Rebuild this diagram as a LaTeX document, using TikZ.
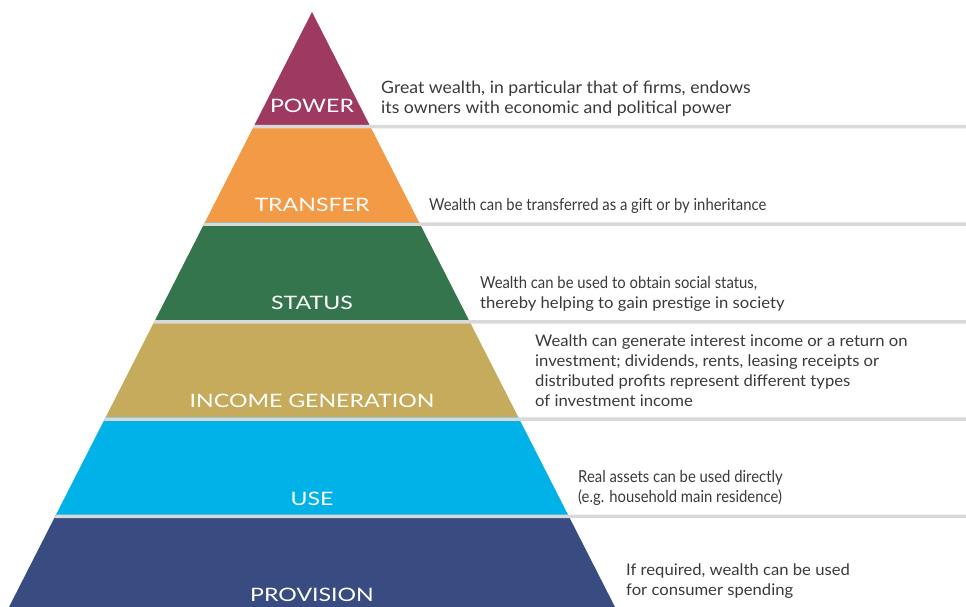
\documentclass[tikz,border=0pt]{standalone}
\usepackage{fontspec}
\setmainfont{Lato}
\newfontfamily\widefont[FakeStretch=1.04]{Lato}
\newfontfamily\narrowfont[FakeStretch=0.9]{Lato}
\newfontfamily\labelfont[FakeStretch=1.25]{Lato}
\usepackage{xcolor}
\usetikzlibrary{positioning}

\definecolor{powercol}{RGB}{158,58,98}
\definecolor{transfercol}{RGB}{243,154,71}
\definecolor{statuscol}{RGB}{52,117,77}
\definecolor{incomecol}{RGB}{197,171,91}
\definecolor{usecol}{RGB}{0,178,232}
\definecolor{provisioncol}{RGB}{57,76,130}
\definecolor{sepgray}{RGB}{217,217,217}
\definecolor{notegray}{RGB}{58,58,58}

\begin{document}
\begin{tikzpicture}[
    x=1pt, y=-1pt,
    layerlabel/.style={font=\labelfont\fontsize{18.5}{20}\selectfont, text=white, inner sep=0pt, anchor=base},
    note/.style={font=\widefont\fontsize{16}{20}\selectfont, text=notegray, align=left, anchor=west, inner sep=0pt},
    bignote/.style={note, font=\widefont\fontsize{17}{20}\selectfont},
    narrownote/.style={note, font=\narrowfont\fontsize{16.5}{20}\selectfont}
]
\useasboundingbox (0,0) rectangle (966,607);

% Schichten der Pyramide
\begin{scope}
    \clip (312,12) -- (615,607) -- (9,607) -- cycle;
    \fill[powercol] (0,0) rectangle (966,125);
    \fill[transfercol] (0,125) rectangle (966,222.3);
    \fill[statuscol] (0,222.3) rectangle (966,320);
    \fill[incomecol] (0,320) rectangle (966,417.3);
    \fill[usecol] (0,417.3) rectangle (966,514.5);
    \fill[provisioncol] (0,514.5) rectangle (966,607);
\end{scope}

% Trennlinien
\foreach \y in {125,222.3,320,417.3,514.5}
    \fill[sepgray] ({312-0.509*(\y-12)},\y) -- (966,\y) -- (966,\y+3.5)
        -- ({312-0.509*(\y+3.5-12)},\y+3.5) -- cycle;

% Beschriftungen
\node[layerlabel] (power) at (312,113) {POWER};
\node[layerlabel] (transfer) at (312,211) {TRANSFER};
\node[layerlabel] (status) at (312,309) {STATUS};
\node[layerlabel] (income) at (312,407) {INCOME GENERATION};
\node[layerlabel] (use) at (312,505) {USE};
\node[layerlabel] (provision) at (312,601) {PROVISION};

% Erklaerungen
\node[bignote] (powernote) at (381,99) {Great wealth, in particular that of firms, endows\\its owners with economic and political power};
\node[narrownote] (transfernote) at (429,206) {Wealth can be transferred as a gift or by inheritance};
\node[note] (statusnote) at (480,293.5) {{\narrowfont\fontsize{16.5}{20}\selectfont Wealth can be used to obtain social status,}\\thereby helping to gain prestige in society};
\node[note] (incomenote) at (535,371) {Wealth can generate interest income or a return on\\investment; dividends, rents, leasing receipts or\\distributed profits represent different types\\of investment income};
\node[narrownote] (usenote) at (578,488) {Real assets can be used directly\\(e.g. household main residence)};
\node[note] (provisionnote) at (626,581) {If required, wealth can be used\\for consumer spending};

\end{tikzpicture}
\end{document}
